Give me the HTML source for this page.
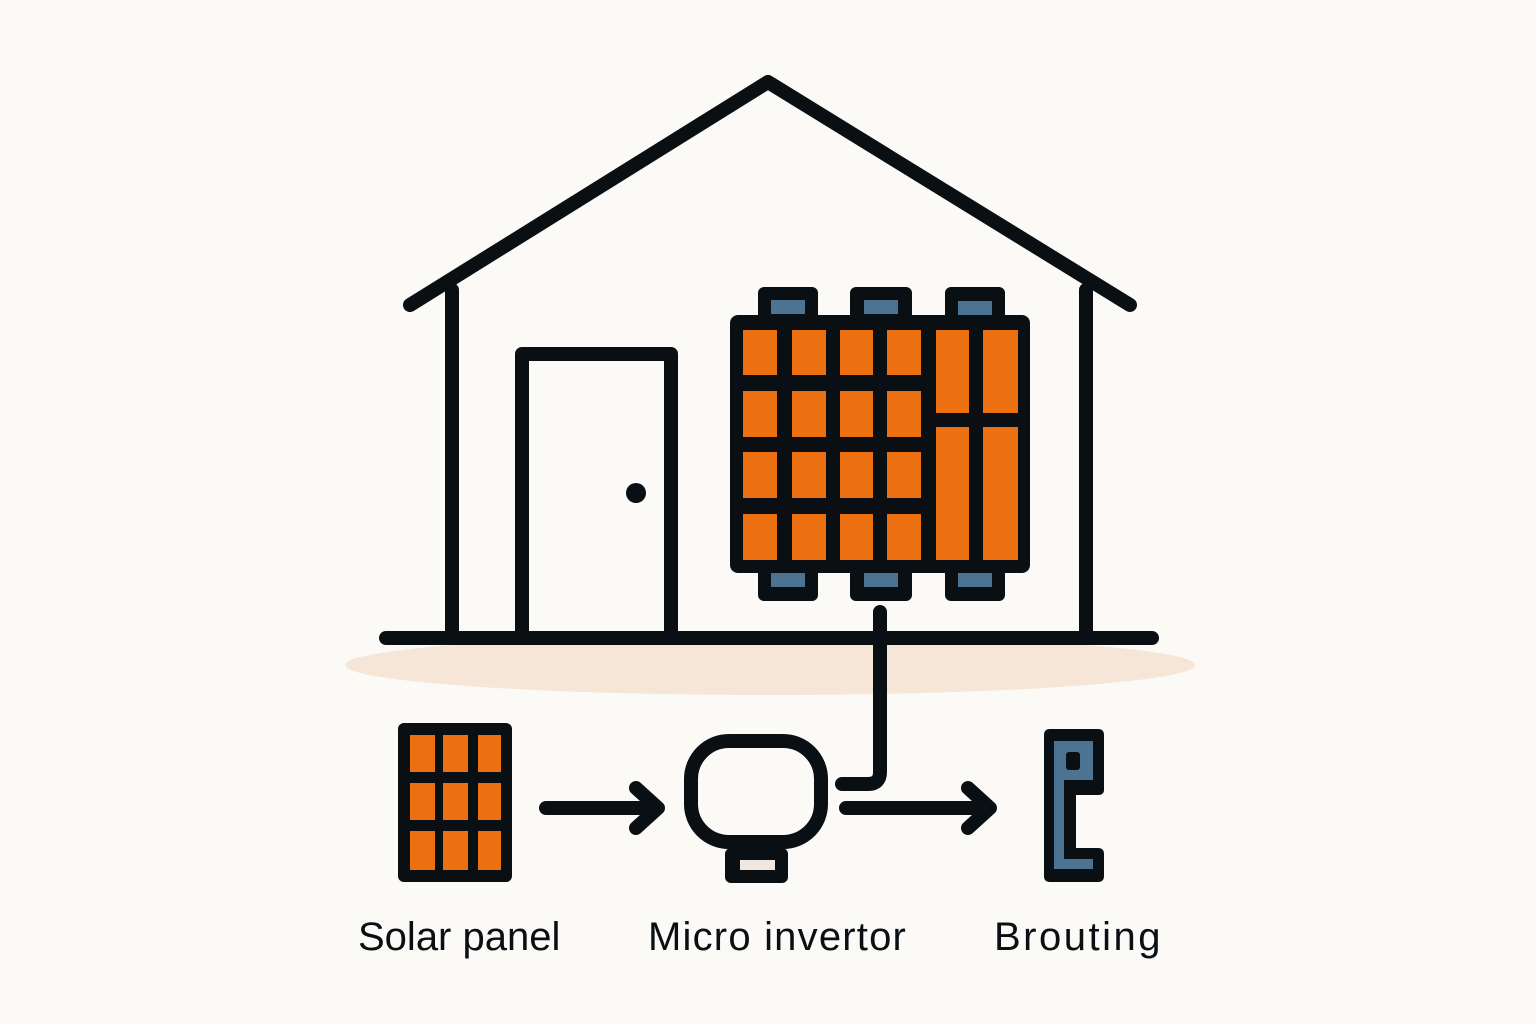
<!DOCTYPE html>
<html><head><meta charset="utf-8"><style>body{margin:0;background:#fbfaf6}svg{display:block}</style></head><body>
<svg width="1536" height="1024" viewBox="0 0 1536 1024" xmlns="http://www.w3.org/2000/svg">
<rect width="1536" height="1024" fill="#fbfaf6"/>
<ellipse cx="770" cy="665" rx="425" ry="30" fill="#f6e6d8"/>
<g stroke="#0a0f14" stroke-width="14" fill="none" stroke-linecap="round" stroke-linejoin="round">
<polyline points="410,305 768,82 1130,305"/>
<line x1="452" y1="290" x2="452" y2="632"/>
<line x1="1086" y1="290" x2="1086" y2="632"/>
<line x1="386" y1="638" x2="1152" y2="638"/>
<polyline points="522,632 522,354 671,354 671,632" stroke-linecap="butt"/>
<path d="M880,612 V772 Q880,784 868,784 H842"/>
<line x1="546" y1="808" x2="655" y2="808"/>
<polyline points="636,788 658,808 636,828"/>
<line x1="846" y1="808" x2="988" y2="808"/>
<polyline points="968,788 990,808 968,828"/>
<rect x="691" y="741" width="130" height="101" rx="38"/>
</g>
<circle cx="636" cy="493" r="10" fill="#0a0f14"/>
<g fill="#0a0f14">
<rect x="758" y="287" width="60" height="40" rx="6"/><rect x="850" y="287" width="62" height="40" rx="6"/><rect x="945" y="287" width="60" height="40" rx="6"/>
<rect x="758" y="560" width="60" height="41" rx="6"/><rect x="850" y="560" width="62" height="41" rx="6"/><rect x="945" y="560" width="60" height="41" rx="6"/>
<rect x="730" y="315" width="300" height="258" rx="8"/>
</g>
<g fill="#4d7393">
<rect x="771" y="300" width="34" height="14"/><rect x="864" y="300" width="34" height="14"/><rect x="958" y="301" width="34" height="14"/>
<rect x="771" y="573" width="34" height="14"/><rect x="864" y="573" width="34" height="14"/><rect x="958" y="573" width="34" height="14"/>
</g>
<g fill="#ec7012">
<rect x="743" y="330" width="34" height="45"/><rect x="792" y="330" width="34" height="45"/><rect x="840" y="330" width="33" height="45"/><rect x="887" y="330" width="34" height="45"/>
<rect x="743" y="391" width="34" height="46"/><rect x="792" y="391" width="34" height="46"/><rect x="840" y="391" width="33" height="46"/><rect x="887" y="391" width="34" height="46"/>
<rect x="743" y="452" width="34" height="46"/><rect x="792" y="452" width="34" height="46"/><rect x="840" y="452" width="33" height="46"/><rect x="887" y="452" width="34" height="46"/>
<rect x="743" y="514" width="34" height="46"/><rect x="792" y="514" width="34" height="46"/><rect x="840" y="514" width="33" height="46"/><rect x="887" y="514" width="34" height="46"/>
<rect x="936" y="330" width="33" height="83"/><rect x="983" y="330" width="35" height="83"/>
<rect x="936" y="427" width="33" height="133"/><rect x="983" y="427" width="35" height="133"/>
</g>
<rect x="398" y="723" width="114" height="159" rx="6" fill="#0a0f14"/>
<g fill="#ec7012">
<rect x="410" y="735" width="25" height="37"/><rect x="443" y="735" width="25" height="37"/><rect x="478" y="735" width="23" height="37"/>
<rect x="410" y="783" width="25" height="37"/><rect x="443" y="783" width="25" height="37"/><rect x="478" y="783" width="23" height="37"/>
<rect x="410" y="831" width="25" height="39"/><rect x="443" y="831" width="25" height="39"/><rect x="478" y="831" width="23" height="39"/>
</g>
<rect x="725" y="848" width="63" height="35" rx="6" fill="#0a0f14"/>
<rect x="740" y="860" width="35" height="10" fill="#f0e8e0"/>
<path d="M1050,729 H1098 Q1104,729 1104,735 V790 Q1104,795 1098,795 H1076 V848 H1098 Q1104,848 1104,854 V876 Q1104,882 1098,882 H1050 Q1044,882 1044,876 V735 Q1044,729 1050,729 Z" fill="#0a0f14"/>
<path d="M1054,741 H1093 V780 H1064 V859 H1093 V869 H1054 Z" fill="#4d7393"/>
<rect x="1066" y="752" width="14" height="18" rx="3" fill="#0a0f14"/>
</svg>
<div style="position:absolute;left:0;top:0;width:1536px;height:1024px;font-family:'Liberation Sans',sans-serif;font-size:40px;color:#0a0f14;white-space:nowrap">
<div style="position:absolute;left:358px;top:915px">Solar panel</div>
<div style="position:absolute;left:648px;top:915px;letter-spacing:1.2px">Micro invertor</div>
<div style="position:absolute;left:994px;top:915px;letter-spacing:2.5px">Brouting</div>
</div>
</body></html>
